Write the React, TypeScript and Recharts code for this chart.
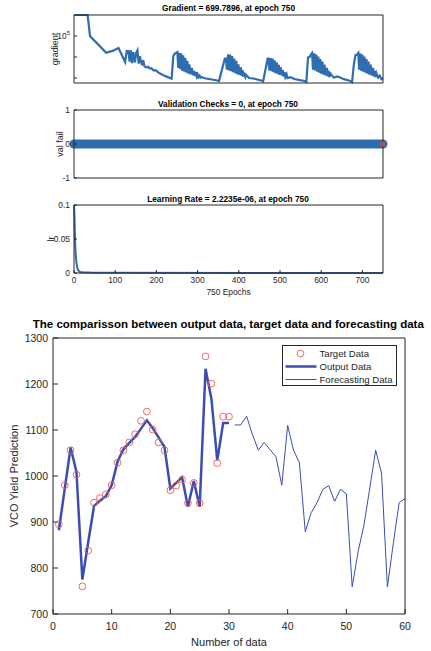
import React from 'react';
import { ComposedChart, Line, Scatter, XAxis, YAxis } from 'recharts';

// training panels (epochs 0..750)
const epochTicks = [0, 100, 200, 300, 400, 500, 600, 700];

const gradEpochs = [
  0, 33, 39, 55, 78, 95, 108, 124, 128, 132, 135, 138, 141, 144, 148, 151, 154, 157, 160, 162, 165, 168, 171, 175, 180, 184, 188, 193, 199, 205, 217, 228, 237,
  241, 245, 251, 253, 255, 258, 260, 263, 265, 268, 270, 273, 275, 278, 280, 283, 286, 289, 292, 294, 296, 298, 300, 302, 305, 307, 310, 320, 335, 348,
  352, 366, 369, 371, 374, 376, 379, 381, 384, 386, 389, 391, 394, 396, 399, 402, 405, 407, 409, 411, 413, 416, 418, 425, 435, 447, 456,
  459, 470, 472, 474, 477, 479, 482, 484, 487, 489, 492, 494, 497, 499, 502, 505, 507, 509, 511, 513, 516, 518, 525, 535, 548, 560,
  564, 568, 572, 576, 578, 580, 583, 585, 588, 590, 593, 595, 598, 600, 603, 605, 608, 611, 614, 616, 618, 620, 623, 630, 640, 655, 669,
  675, 679, 683, 687, 690, 692, 695, 697, 700, 702, 705, 707, 710, 712, 715, 717, 720, 723, 726, 728, 730, 732, 734, 738, 742, 746, 750,
];
const gradValues = [
  1e6, 1e6, 9.8e4, 4.7e4, 1.6e4, 2.0e4, 2.7e4, 5.8e3, 1.95e4, 1.9e4, 6.0e3, 2.1e4, 5.1e3, 1.7e4, 5.5e3, 1.6e4, 2.1e4, 4.8e3, 1.1e4, 6.9e3, 4.0e3, 7.0e3, 3.6e3, 3.2e3, 3.4e3, 2.8e3, 2.9e3, 2.3e3, 2.3e3, 1.8e3, 1.35e3, 1.1e3, 930,
  1.1e4, 1.45e4, 1.7e4, 3.0e3, 1.6e4, 2.6e3, 1.5e4, 2.2e3, 1.2e4, 2.0e3, 9.0e3, 1.8e3, 6.5e3, 1.6e3, 4.5e3, 1.5e3, 3.0e3, 1.35e3, 2.2e3, 1.25e3, 1.9e3, 1.2e3, 1.5e3, 1.1e3, 1.3e3, 1.05e3, 1.1e3, 950, 850, 760, 720,
  8.3e3, 8.5e3, 2.5e3, 1.35e4, 2.3e3, 1.3e4, 2.1e3, 1.1e4, 1.9e3, 8.5e3, 1.7e3, 6.5e3, 1.5e3, 4.5e3, 1.4e3, 3.2e3, 1.25e3, 2.4e3, 1.15e3, 1.8e3, 1.1e3, 1.4e3, 1.0e3, 950, 820, 740, 690,
  8.3e3, 8.3e3, 2.3e3, 8.9e3, 2.1e3, 8.5e3, 1.9e3, 7.0e3, 1.7e3, 5.5e3, 1.55e3, 4.2e3, 1.4e3, 3.2e3, 1.3e3, 2.4e3, 1.15e3, 1.9e3, 1.1e3, 1.5e3, 1.0e3, 1.1e3, 900, 790, 720, 650,
  9.5e3, 1.0e4, 1.4e4, 1.55e4, 2.5e3, 1.5e4, 2.3e3, 1.3e4, 2.0e3, 1.05e4, 1.8e3, 8.0e3, 1.6e3, 6.0e3, 1.45e3, 4.3e3, 1.3e3, 3.0e3, 1.2e3, 2.2e3, 1.1e3, 1.6e3, 1.05e3, 1.2e3, 880, 740, 640,
  4.0e3, 1.2e4, 1.3e4, 1.55e4, 2.5e3, 1.5e4, 2.2e3, 1.3e4, 2.0e3, 1.05e4, 1.8e3, 8.0e3, 1.6e3, 6.0e3, 1.45e3, 4.3e3, 1.3e3, 3.0e3, 1.2e3, 2.2e3, 1.1e3, 1.7e3, 1.05e3, 1.3e3, 880, 1.0e3, 700,
];

const valEpochs = [0, 750];
const valFail = [0, 0];
const valLastEpoch = [750];
const valLastValue = [0];

const lrEpochs = [0, 1, 2, 3, 4, 6, 8, 10, 15, 25, 35, 45, 60, 750];
const lrValues = [0.1, 0.085, 0.06, 0.04, 0.028, 0.015, 0.008, 0.004, 0.0015, 0.0006, 0.0009, 0.0005, 0.0003, 2.2235e-6];

// comparison chart
const xTicks = [0, 10, 20, 30, 40, 50, 60];
const yTicks = [700, 800, 900, 1000, 1100, 1200, 1300];

const targetX = [1, 2, 3, 4, 5, 6, 7, 8, 9, 10, 11, 12, 13, 14, 15, 16, 17, 18, 19, 20, 21, 22, 23, 24, 25, 26, 27, 28, 29, 30];
const targetY = [895, 980, 1056, 1003, 760, 838, 942, 952, 960, 980, 1029, 1056, 1073, 1091, 1120, 1140, 1101, 1073, 1056, 969, 979, 992, 941, 985, 941, 1260, 1201, 1028, 1129, 1129];
const outputY = [882, 972, 1062, 1009, 775, 856, 935, 946, 956, 980, 1031, 1058, 1072, 1085, 1103, 1121, 1104, 1084, 1063, 973, 985, 997, 933, 989, 933, 1233, 1168, 1034, 1115, 1115];

const forecastX = [31, 32, 33, 34, 35, 36, 37, 38, 39, 40, 41, 42, 43, 44, 45, 46, 47, 48, 49, 50, 51, 52, 53, 54, 55, 56, 57, 58, 59, 60];
const forecastY = [1111, 1111, 1130, 1090, 1056, 1073, 1057, 1042, 980, 1110, 1056, 1029, 879, 920, 942, 971, 979, 945, 971, 961, 759, 835, 893, 974, 1056, 1006, 759, 853, 942, 951];

const AX = '#262626';
const BLUE = '#2e6db0';
const NAVY = '#3a4db3';
const RED = '#ee5a4f';
const FONT = '"Liberation Sans", Arial, Helvetica, sans-serif';

const gradData = gradEpochs.map((x, i) => ({ x, y: gradValues[i] }));
const valData = valEpochs.map((x, i) => ({ x, y: valFail[i] }));
const valEnd = valLastEpoch.map((x, i) => ({ x, y: valLastValue[i] }));
const lrData = lrEpochs.map((x, i) => ({ x, y: lrValues[i] }));
const targetData = targetX.map((x, i) => ({ x, y: targetY[i] }));
const outputData = targetX.map((x, i) => ({ x, y: outputY[i] }));
const forecastData = forecastX.map((x, i) => ({ x, y: forecastY[i] }));

const zero = { top: 0, right: 0, bottom: 0, left: 0 };
const smallTick = { fontSize: 8.4, fill: AX };

function Txt({ x, y, size, bold, rotate, children }: any) {
  return (
    <div
      style={{
        position: 'absolute',
        left: x,
        top: y,
        transform: `translate(-50%, -50%)${rotate ? ' rotate(-90deg)' : ''}`,
        fontSize: size,
        fontWeight: bold ? 700 : 400,
        color: bold ? '#000' : AX,
        whiteSpace: 'nowrap',
        lineHeight: 1,
      }}
    >
      {children}
    </div>
  );
}

const PowTick = (props: any) => {
  const { x, y, payload } = props;
  if (payload.value !== 1e5) return <g />;
  return (
    <text x={x} y={y} textAnchor="end" fontSize={8.4} fill={AX} dy="0.35em">
      <tspan>10</tspan>
      <tspan dy={-4} fontSize={6}>5</tspan>
    </text>
  );
};

const TargetCircle = (props: any) => (
  <circle cx={props.cx} cy={props.cy} r={3.4} fill="none" stroke={RED} strokeWidth={0.9} />
);
const RedDot = (props: any) => <circle cx={props.cx} cy={props.cy} r={2.6} fill="#d8432f" />;

// shared frame of the three small training panels
function epochAxes(bottomH: number, labels: boolean) {
  return [
    <XAxis key="xb" dataKey="x" type="number" domain={[0, 750]} ticks={epochTicks} interval={0} height={bottomH}
      tickSize={-3} tickMargin={7} stroke={AX} tick={labels ? smallTick : false} />,
    <XAxis key="xt" xAxisId="top" orientation="top" type="number" domain={[0, 750]} allowDataOverflow ticks={epochTicks}
      interval={0} height={15} tickSize={-3} stroke={AX} tick={false} />,
  ];
}

export default function App() {
  return (
    <div style={{ position: 'absolute', left: 0, top: 0, width: 431, height: 651, background: '#fff', fontFamily: FONT }}>
      {/* Gradient */}
      <div style={{ position: 'absolute', left: 0, top: 0 }}>
        <ComposedChart width={431} height={95} margin={zero}>
          {epochAxes(12, false)}
          <YAxis dataKey="y" type="number" scale="log" domain={[578, 1e6]} ticks={[1e3, 1e4, 1e5]} interval={0} width={74}
            tickSize={-3} tickMargin={7} stroke={AX} tick={PowTick} />
          <YAxis yAxisId="right" orientation="right" type="number" scale="log" domain={[578, 1e6]} allowDataOverflow
            ticks={[1e3, 1e4, 1e5]} interval={0} width={48} tickSize={-3} stroke={AX} tick={false} />
          <Line data={gradData} dataKey="y" stroke={BLUE} strokeWidth={2.2} dot={false} isAnimationActive={false} />
        </ComposedChart>
      </div>

      {/* Validation checks */}
      <div style={{ position: 'absolute', left: 0, top: 95 }}>
        <ComposedChart width={431} height={95} margin={zero}>
          {epochAxes(12, false)}
          <YAxis dataKey="y" type="number" domain={[-1, 1]} ticks={[-1, 0, 1]} interval={0} width={74}
            tickSize={-3} tickMargin={7} stroke={AX} tick={smallTick} />
          <YAxis yAxisId="right" orientation="right" type="number" domain={[-1, 1]} allowDataOverflow ticks={[-1, 0, 1]}
            interval={0} width={48} tickSize={-3} stroke={AX} tick={false} />
          <Line data={valData} dataKey="y" stroke={BLUE} strokeWidth={9} strokeLinecap="round" dot={false} isAnimationActive={false} />
          <Scatter data={valEnd} dataKey="y" shape={RedDot} isAnimationActive={false} />
        </ComposedChart>
      </div>

      {/* Learning rate */}
      <div style={{ position: 'absolute', left: 0, top: 190 }}>
        <ComposedChart width={431} height={115} margin={zero}>
          {epochAxes(32, true)}
          <YAxis dataKey="y" type="number" domain={[0, 0.1]} ticks={[0, 0.05, 0.1]} interval={0} width={74}
            tickSize={-3} tickMargin={7} stroke={AX} tick={smallTick} />
          <YAxis yAxisId="right" orientation="right" type="number" domain={[0, 0.1]} allowDataOverflow ticks={[0, 0.05, 0.1]}
            interval={0} width={48} tickSize={-3} stroke={AX} tick={false} />
          <Line data={lrData} dataKey="y" stroke={BLUE} strokeWidth={2} dot={false} isAnimationActive={false} />
        </ComposedChart>
      </div>

      {/* Comparison */}
      <div style={{ position: 'absolute', left: 0, top: 310 }}>
        <ComposedChart width={431} height={341} margin={zero}>
          <XAxis dataKey="x" type="number" domain={[0, 60]} ticks={xTicks} interval={0} height={37}
            tickSize={-5} tickMargin={14} stroke={AX} tick={{ fontSize: 10.5, fill: AX }} />
          <XAxis xAxisId="top" orientation="top" type="number" domain={[0, 60]} allowDataOverflow ticks={xTicks}
            interval={0} height={28} tickSize={-5} stroke={AX} tick={false} />
          <YAxis dataKey="y" type="number" domain={[700, 1300]} ticks={yTicks} interval={0} width={53}
            tickSize={-5} tickMargin={10} stroke={AX} tick={{ fontSize: 10.5, fill: AX }} />
          <YAxis yAxisId="right" orientation="right" type="number" domain={[700, 1300]} allowDataOverflow ticks={yTicks}
            interval={0} width={26} tickSize={-5} stroke={AX} tick={false} />
          <Scatter data={targetData} dataKey="y" shape={TargetCircle} isAnimationActive={false} />
          <Line data={outputData} dataKey="y" stroke={NAVY} strokeWidth={2.5} dot={false} isAnimationActive={false} />
          <Line data={forecastData} dataKey="y" stroke={NAVY} strokeWidth={1} dot={false} isAnimationActive={false} />
        </ComposedChart>
      </div>

      {/* legend */}
      <div style={{ position: 'absolute', left: 281.5, top: 345, width: 115, height: 41, border: `1px solid ${AX}`, background: '#fff', boxSizing: 'border-box' }}>
        <svg width={113} height={39} style={{ display: 'block' }}>
          <circle cx={17.5} cy={7.5} r={3.4} fill="none" stroke={RED} strokeWidth={0.9} />
          <line x1={2.5} y1={20.5} x2={33.5} y2={20.5} stroke={NAVY} strokeWidth={2.5} />
          <line x1={2.5} y1={33.5} x2={33.5} y2={33.5} stroke={NAVY} strokeWidth={1} />
          <text x={36.5} y={7.5} fontSize={9.6} fill={AX} dominantBaseline="central">Target Data</text>
          <text x={36.5} y={20.5} fontSize={9.6} fill={AX} dominantBaseline="central">Output Data</text>
          <text x={36.5} y={33.5} fontSize={9.6} fill={AX} dominantBaseline="central">Forecasting Data</text>
        </svg>
      </div>

      {/* titles and axis labels */}
      <Txt x={228.5} y={7.5} size={8.3} bold>Gradient = 699.7896, at epoch 750</Txt>
      <Txt x={228} y={104} size={8.3} bold>Validation Checks = 0, at epoch 750</Txt>
      <Txt x={228} y={199} size={8.3} bold>Learning Rate = 2.2235e-06, at epoch 750</Txt>
      <Txt x={55} y={48.5} size={9} rotate>gradient</Txt>
      <Txt x={60} y={144} size={9} rotate>val fail</Txt>
      <Txt x={50.5} y={239} size={9} rotate>lr</Txt>
      <Txt x={228.5} y={291.5} size={8.4}>750 Epochs</Txt>
      <Txt x={228.3} y={325} size={11.5} bold>The comparisson between output data, target data and forecasting data</Txt>
      <Txt x={14} y={476} size={11} rotate>VCO Yield Prediction</Txt>
      <Txt x={229} y={641.5} size={11}>Number of data</Txt>
    </div>
  );
}
